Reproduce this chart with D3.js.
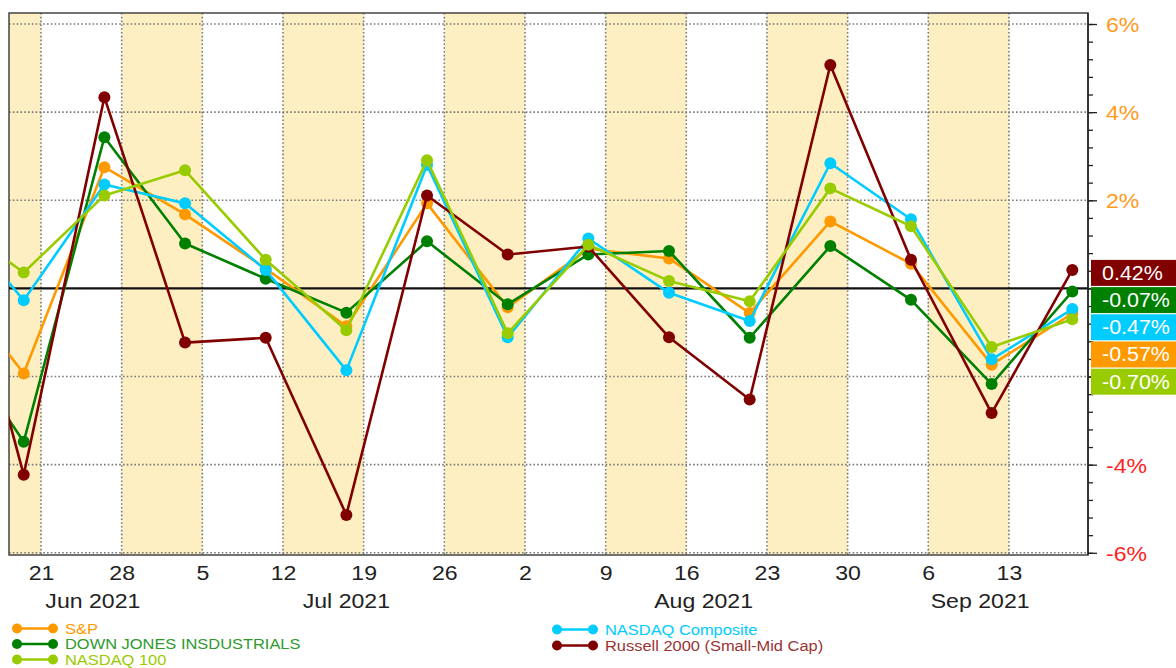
<!DOCTYPE html>
<html><head><meta charset="utf-8">
<script src="https://cdn.jsdelivr.net/npm/d3@7"></script>
<style>
html,body{margin:0;padding:0;background:#fff;}
svg{display:block;font-family:"Liberation Sans",Arial,sans-serif;}
</style></head>
<body><svg id="c" width="1176" height="668"></svg>
<script>
// ---- data ----
const weekDates = ["2021-06-12","2021-06-19","2021-06-26","2021-07-03","2021-07-10","2021-07-17","2021-07-24","2021-07-31","2021-08-07","2021-08-14","2021-08-21","2021-08-28","2021-09-04","2021-09-11","2021-09-18"];
const spValues   = [0.45,-1.93,2.75,1.68,0.45,-0.86,1.93,-0.43,0.90,0.68,-0.56,1.52,0.56,-1.73,-0.57];
const dowValues  = [-0.75,-3.48,3.43,1.02,0.22,-0.55,1.07,-0.36,0.77,0.85,-1.12,0.96,-0.26,-2.17,-0.07];
const compValues = [1.90,-0.27,2.36,1.93,0.42,-1.86,2.80,-1.11,1.13,-0.10,-0.74,2.84,1.57,-1.61,-0.47];
const rutValues  = [2.60,-4.23,4.34,-1.23,-1.12,-5.14,2.11,0.77,0.95,-1.11,-2.52,5.07,0.65,-2.83,0.42];
const ndxValues  = [1.70,0.36,2.11,2.68,0.65,-0.95,2.91,-1.02,0.99,0.17,-0.29,2.27,1.41,-1.33,-0.70];
const seriesNames = ["S&P","DOWN JONES INSDUSTRIALS","NASDAQ 100","NASDAQ Composite","Russell 2000 (Small-Mid Cap)"];
const yTickValues = [-6,-4,-2,0,2,4,6];
const monthLabels = [["Jun 2021","2021-06-25"],["Jul 2021","2021-07-17T12:00"],["Aug 2021","2021-08-17T12:00"],["Sep 2021","2021-09-10T12:00"]];

// ---- styling ----
const colors = {"S&P":"#ff9900","DOWN JONES INSDUSTRIALS":"#008000","NASDAQ 100":"#99cc00","NASDAQ Composite":"#00ccff","Russell 2000 (Small-Mid Cap)":"#800000"};
const textColors = {"S&P":"#ff9900","DOWN JONES INSDUSTRIALS":"#2e9a2e","NASDAQ 100":"#99cc00","NASDAQ Composite":"#00ccff","Russell 2000 (Small-Mid Cap)":"#993333"};
const valuesByName = {"S&P":spValues,"DOWN JONES INSDUSTRIALS":dowValues,"NASDAQ 100":ndxValues,"NASDAQ Composite":compValues,"Russell 2000 (Small-Mid Cap)":rutValues};
const drawOrder = ["S&P","DOWN JONES INSDUSTRIALS","NASDAQ Composite","Russell 2000 (Small-Mid Cap)","NASDAQ 100"];
const SX = 1.1;

const L = 9, R = 1088, T = 13, B = 555;
const parse = s => new Date(s.length>10 ? s : s+"T12:00");
const x = d3.scaleTime().domain([new Date(2021,5,18,5,20), new Date(2021,8,19,20,40)]).range([L,R]);
const y = d3.scaleLinear().domain([-6.05,6.25]).range([B,T]);

const svg = d3.select("#c");
svg.append("defs").append("clipPath").attr("id","pc").append("rect")
  .attr("x",L).attr("y",T).attr("width",R-L).attr("height",B-T);

// shaded alternate weeks
const mondays = d3.timeMonday.range(new Date(2021,5,14), new Date(2021,8,27));
const bands = svg.append("g").attr("clip-path","url(#pc)");
mondays.forEach((m,i)=>{
  if(i%2===0){
    const e = d3.timeMonday.offset(m,1);
    bands.append("rect").attr("x",x(m)).attr("y",T).attr("width",x(e)-x(m)).attr("height",B-T).attr("fill","#fdefc2");
  }
});

// gridlines
const grid = svg.append("g").attr("stroke","#7a7a7a").attr("stroke-width",1.6).attr("stroke-dasharray","1.6,2.2");
const gridMondays = d3.timeMonday.range(new Date(2021,5,19), new Date(2021,8,19));
gridMondays.forEach(m=>{
  grid.append("line").attr("x1",x(m)).attr("x2",x(m)).attr("y1",T).attr("y2",B);
});
yTickValues.filter(v=>v!==0).forEach(v=>{
  grid.append("line").attr("x1",L).attr("x2",R).attr("y1",y(v)).attr("y2",y(v));
});

// border
svg.append("rect").attr("x",L).attr("y",T).attr("width",R-L).attr("height",B-T)
  .attr("fill","none").attr("stroke","#444").attr("stroke-width",1.5);
// zero line
svg.append("line").attr("x1",L).attr("x2",R).attr("y1",y(0)).attr("y2",y(0)).attr("stroke","#111").attr("stroke-width",2.2);

// series
const dates = weekDates.map(parse);
const line = d3.line().x((d,i)=>x(dates[i])).y(d=>y(d));
const plot = svg.append("g").attr("clip-path","url(#pc)");
drawOrder.forEach(name=>{
  const vals = valuesByName[name];
  const g = plot.append("g");
  g.append("path").attr("d",line(vals)).attr("fill","none").attr("stroke",colors[name]).attr("stroke-width",2.6).attr("stroke-linejoin","round");
  g.selectAll("circle").data(vals).join("circle")
    .attr("cx",(d,i)=>x(dates[i])).attr("cy",d=>y(d)).attr("r",6).attr("fill",colors[name]);
});

// last-value label positions (computed first so axis labels under them are hidden)
const lastIdx = dates.length-1;
const lab = drawOrder.map(n=>({name:n,v:valuesByName[n][lastIdx]})).sort((a,b)=>b.v-a.v);
let prev = -Infinity;
lab.forEach(d=>{ let c = y(d.v)+3; if(c < prev+27.2) c = prev+27.2; d.cy = c; prev = c; });
const underBox = v => lab.some(d=>Math.abs(y(v)-d.cy) < 24);

// right axis
svg.append("line").attr("x1",R).attr("x2",R).attr("y1",T).attr("y2",B).attr("stroke","#222").attr("stroke-width",1.5);
const minorVals = d3.range(-6,6.01,0.4).map(v=>+v.toFixed(2));
const minorAxis = svg.append("g").attr("transform",`translate(${R},0)`)
  .call(d3.axisRight(y).tickValues(minorVals).tickSize(5).tickFormat(""));
minorAxis.select(".domain").remove();
minorAxis.selectAll("line").attr("stroke","#222").attr("stroke-width",1.3);
const majorAxis = svg.append("g").attr("transform",`translate(${R},0)`)
  .call(d3.axisRight(y).tickValues(yTickValues).tickSize(9).tickPadding(9).tickFormat(d=>underBox(d)?"":d+"%"));
majorAxis.select(".domain").remove();
majorAxis.selectAll("line").attr("stroke","#222").attr("stroke-width",1.3);
majorAxis.selectAll("text").attr("font-size",21).attr("font-family","Liberation Sans, Arial, sans-serif")
  .attr("fill",d=>d>=0?"#ff9a1a":"#ff2222").attr("dy","0.36em")
  .attr("transform",`scale(${SX},1)`).attr("x",18/SX);

// bottom axis (day numbers)
const bAxis = svg.append("g").attr("transform",`translate(0,${B})`)
  .call(d3.axisBottom(x).tickValues(gridMondays).tickSize(0).tickPadding(0).tickFormat(d3.timeFormat("%-d")));
bAxis.select(".domain").remove();
bAxis.selectAll("text").attr("font-size",21).attr("fill","#222").attr("y",0).attr("dy",25)
  .attr("font-family","Liberation Sans, Arial, sans-serif").attr("transform",`scale(${SX},1)`);

// month labels
svg.append("g").selectAll("text").data(monthLabels).join("text")
  .attr("transform",d=>`translate(${x(parse(d[1]))},${B+53}) scale(${SX},1)`)
  .attr("text-anchor","middle").attr("font-size",21).attr("fill","#222").text(d=>d[0]);

// last-value boxes
const lg = svg.append("g");
lab.forEach(d=>{
  lg.append("rect").attr("x",R+3).attr("y",d.cy-13).attr("width",1176-R-3).attr("height",26).attr("fill",colors[d.name]);
  lg.append("text").attr("transform",`translate(${R+14},${d.cy+7}) scale(${SX},1)`)
    .attr("font-size",19.5).attr("fill","#fff").text(d.v.toFixed(2)+"%");
});

// legend
const legendItems = [
  {name:"S&P",x:17,y:628.5},{name:"DOWN JONES INSDUSTRIALS",x:17,y:644},{name:"NASDAQ 100",x:17,y:659.5},
  {name:"NASDAQ Composite",x:557,y:629.5},{name:"Russell 2000 (Small-Mid Cap)",x:557,y:645.5}
];
const leg = svg.append("g");
legendItems.forEach(it=>{
  const c = colors[it.name];
  leg.append("line").attr("x1",it.x).attr("x2",it.x+36).attr("y1",it.y).attr("y2",it.y).attr("stroke",c).attr("stroke-width",2.6);
  leg.append("circle").attr("cx",it.x).attr("cy",it.y).attr("r",5).attr("fill",c);
  leg.append("circle").attr("cx",it.x+36).attr("cy",it.y).attr("r",5).attr("fill",c);
  leg.append("text").attr("transform",`translate(${it.x+48},${it.y+5.2}) scale(1.15,1)`)
    .attr("font-size",14.3).attr("fill",textColors[it.name]).text(it.name);
});
</script></body></html>
